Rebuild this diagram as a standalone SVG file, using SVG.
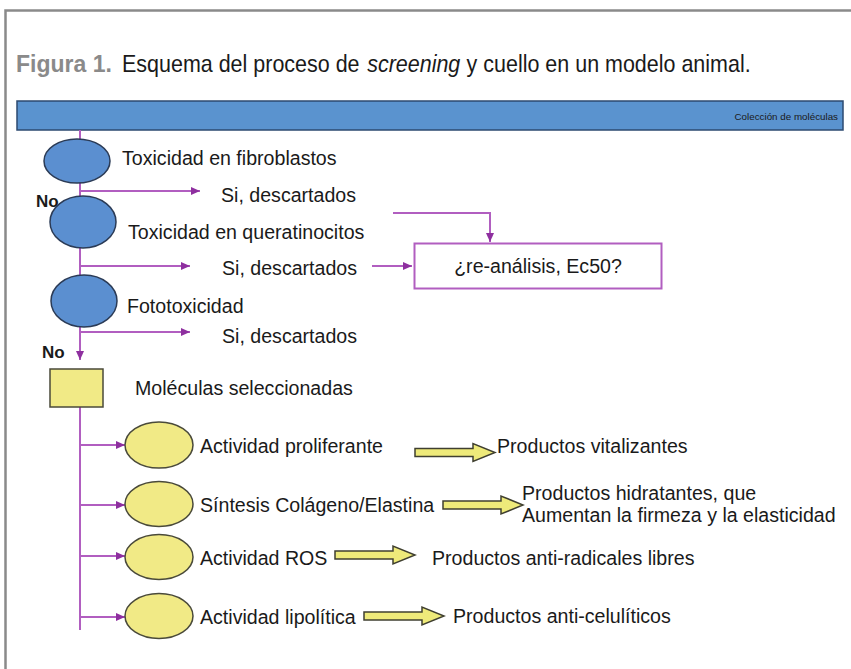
<svg xmlns="http://www.w3.org/2000/svg" width="851" height="669" viewBox="0 0 851 669">
<style>
.t{font-family:"Liberation Sans",Arial,sans-serif;font-size:19.6px;fill:#1a1a1a}
.no{font-family:"Liberation Sans",Arial,sans-serif;font-size:17px;font-weight:bold;fill:#1a1a1a}
.c{stroke:#b15ec0;stroke-width:2;fill:none}
.be{fill:#5b8fd0;stroke:#2b3b56;stroke-width:1.5}
.ye{fill:#f1ea86;stroke:#4a4a3a;stroke-width:1.5}
.blk{fill:#eeea7a;stroke:#3f3f30;stroke-width:1.5}
.ti{font-family:"Liberation Sans",Arial,sans-serif;font-size:24px;fill:#1a1a1a}
</style>
<defs>
<marker id="ah" markerUnits="userSpaceOnUse" markerWidth="10" markerHeight="8" refX="9" refY="4" orient="auto">
<path d="M0,0 L9,4 L0,8 Z" fill="#8e2f9f"/>
</marker>
<path id="barrow" d="M0,-4 H58 V-9 L80,0 L58,9 V4 H0 Z"/>
</defs>
<rect x="5.5" y="10.5" width="860" height="680" fill="#ffffff" stroke="#8a8a8a" stroke-width="2.5"/>
<g id="title">
<text x="16" y="72" font-family="Liberation Sans, Arial, sans-serif" font-size="23" font-weight="bold" fill="#8a8a8a">Figura 1.</text>
<g transform="translate(122,72) scale(0.895,1)">
<text class="ti" x="0" y="0">Esquema del proceso de</text>
<text class="ti" x="274" y="0" font-style="italic">screening</text>
<text class="ti" x="385" y="0">y cuello en un modelo animal.</text>
</g>
</g>
<g id="coleccion">
<rect x="17" y="101" width="826" height="29" fill="#5a93cf" stroke="#2d4a70" stroke-width="1.5"/>
<text x="838" y="120" text-anchor="end" font-family="Liberation Sans, Arial, sans-serif" font-size="9.8" fill="#1a1a1a">Colección de moléculas</text>
</g>
<g id="connectors">
<path class="c" d="M80,130 V360" marker-end="url(#ah)"/>
<path class="c" d="M80,191 H200" marker-end="url(#ah)"/>
<path class="c" d="M80,266 H190" marker-end="url(#ah)"/>
<path class="c" d="M372,266 H412" marker-end="url(#ah)"/>
<path class="c" d="M393,213 H490 V242" marker-end="url(#ah)"/>
<path class="c" d="M80,332 H190" marker-end="url(#ah)"/>
<path class="c" d="M80,407 V630"/>
<path class="c" d="M80,445 H125" marker-end="url(#ah)"/>
<path class="c" d="M80,505 H125" marker-end="url(#ah)"/>
<path class="c" d="M80,556 H125" marker-end="url(#ah)"/>
<path class="c" d="M80,617 H125" marker-end="url(#ah)"/>
</g>
<g id="n-fibro">
<ellipse class="be" cx="77" cy="161" rx="33" ry="22"/>
<text class="t" x="122" y="165">Toxicidad en fibroblastos</text>
</g>
<g id="si1"><text class="t" x="221" y="202">Si, descartados</text></g>
<g id="no1"><text class="no" x="36" y="207">No</text></g>
<g id="n-querat">
<ellipse class="be" cx="83" cy="222" rx="33" ry="26"/>
<text class="t" x="128" y="239">Toxicidad en queratinocitos</text>
</g>
<g id="si2"><text class="t" x="222" y="275">Si, descartados</text></g>
<g id="n-reanalisis">
<rect x="414.5" y="243.5" width="247" height="45" fill="#ffffff" stroke="#b15ec0" stroke-width="2"/>
<text class="t" x="538" y="273" text-anchor="middle">¿re-análisis, Ec50?</text>
</g>
<g id="n-foto">
<ellipse class="be" cx="84" cy="301" rx="33" ry="26"/>
<text class="t" x="127" y="313">Fototoxicidad</text>
</g>
<g id="si3"><text class="t" x="222" y="343">Si, descartados</text></g>
<g id="no2"><text class="no" x="42" y="358">No</text></g>
<g id="n-selec">
<rect x="50" y="369" width="53" height="38" fill="#f1ea86" stroke="#4a4a3a" stroke-width="1.5"/>
<text class="t" x="135" y="395">Moléculas seleccionadas</text>
</g>
<g id="n-prolif">
<ellipse class="ye" cx="159" cy="445" rx="34" ry="23"/>
<text class="t" x="200" y="453">Actividad proliferante</text>
<use href="#barrow" class="blk" transform="translate(415,452.5)"/>
<text class="t" x="497" y="453">Productos vitalizantes</text>
</g>
<g id="n-colageno">
<ellipse class="ye" cx="159" cy="504" rx="34" ry="22.5"/>
<text class="t" x="200" y="512">Síntesis Colágeno/Elastina</text>
<use href="#barrow" class="blk" transform="translate(443,505)"/>
<text class="t" x="522" y="500">Productos hidratantes, que</text>
<text class="t" x="522" y="522">Aumentan la firmeza y la elasticidad</text>
</g>
<g id="n-ros">
<ellipse class="ye" cx="159" cy="557" rx="34" ry="22.5"/>
<text class="t" x="200" y="565">Actividad ROS</text>
<use href="#barrow" class="blk" transform="translate(335,555)"/>
<text class="t" x="432" y="565">Productos anti-radicales libres</text>
</g>
<g id="n-lipo">
<ellipse class="ye" cx="159" cy="616" rx="34" ry="22.5"/>
<text class="t" x="200" y="624">Actividad lipolítica</text>
<use href="#barrow" class="blk" transform="translate(364,616)"/>
<text class="t" x="453" y="623">Productos anti-celulíticos</text>
</g>
</svg>
